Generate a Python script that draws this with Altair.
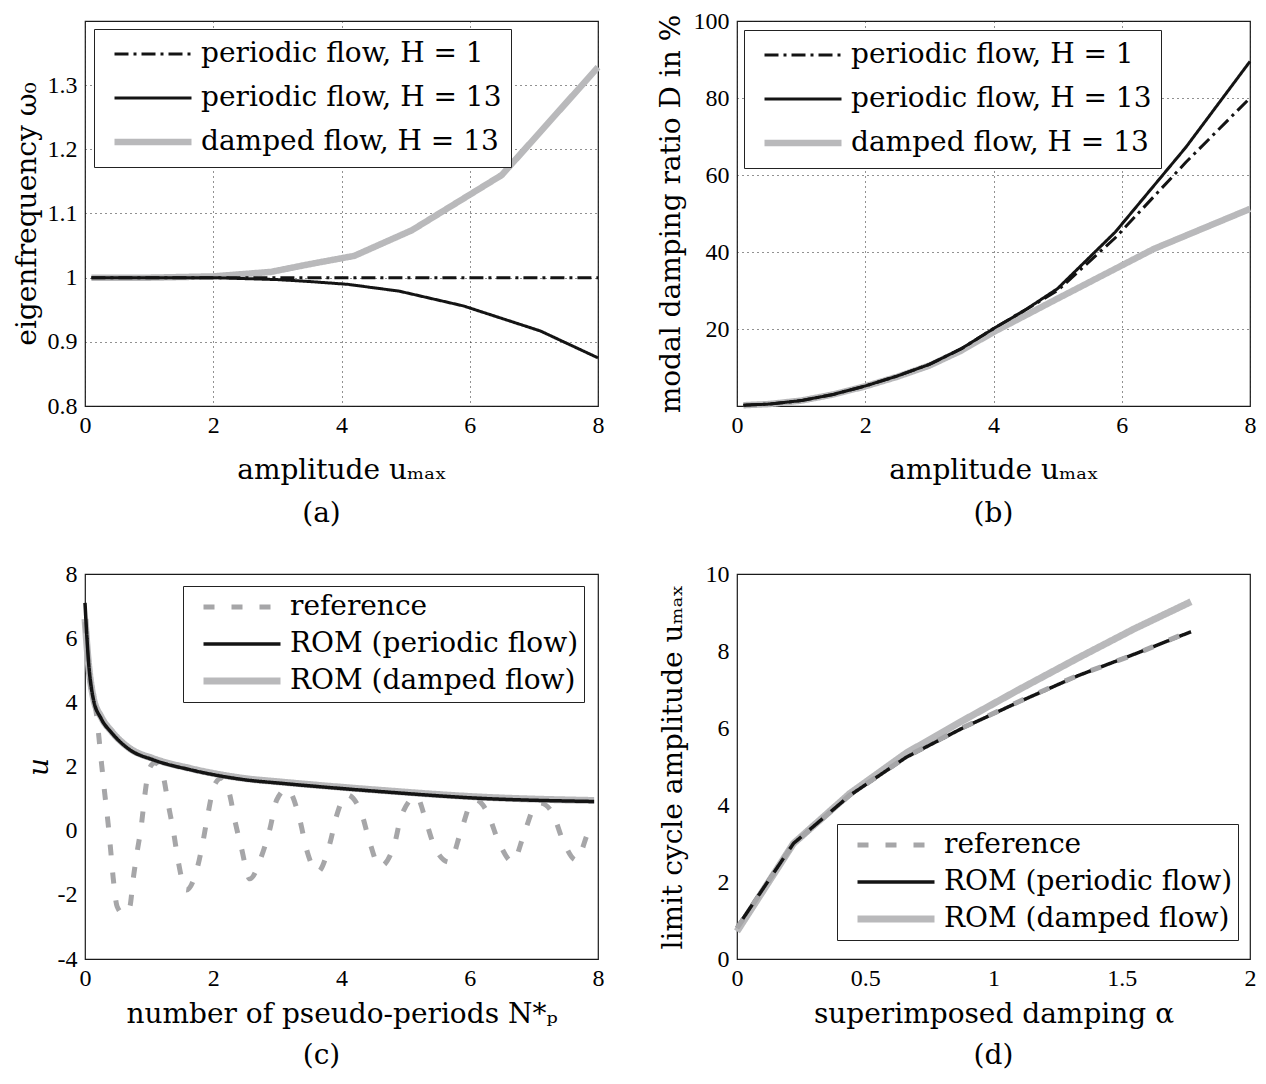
import altair as alt
import pandas as pd

# ---------------- panel (a): eigenfrequency ----------------
a_x_h1 = [0.1, 8.0]
a_y_h1 = [1.0, 1.0]
a_x_h13 = [0.1, 1.0, 2.0, 3.0, 3.5, 4.1, 4.9, 5.9, 7.1, 8.0]
a_y_h13 = [1.0, 1.0, 1.0, 0.997, 0.994, 0.9896, 0.979, 0.956, 0.917, 0.875]
a_x_damp = [0.1, 1.0, 2.0, 2.9, 3.5, 4.2, 5.1, 6.5, 8.0]
a_y_damp = [1.0, 1.0, 1.002, 1.009, 1.021, 1.034, 1.074, 1.16, 1.328]

# ---------------- panel (b): modal damping ratio ----------------
b_x = [0.1, 0.5, 1.0, 1.5, 2.0, 2.5, 3.0, 3.5, 4.0, 4.5, 5.0, 5.9, 7.0, 8.0]
b_y_h13 = [0.2, 0.5, 1.4, 3.0, 5.2, 7.8, 10.8, 14.9, 20.1, 25.0, 30.5, 45.2, 67.2, 89.5]
b_y_h1 = [0.2, 0.5, 1.4, 3.0, 5.2, 7.8, 10.8, 14.9, 20.1, 25.0, 30.0, 43.7, 63.3, 80.0]
b_x_damp = [0.1, 0.5, 1.0, 1.5, 2.0, 2.5, 3.0, 3.5, 4.0, 5.0, 6.5, 8.0]
b_y_damp = [0.2, 0.5, 1.4, 3.0, 5.1, 7.6, 10.5, 14.4, 19.2, 27.9, 40.8, 51.2]

# ---------------- panel (c): time signal ----------------
c_x_rom = [0.0, 0.05, 0.13, 0.25, 0.42, 0.7, 1.06, 1.64, 2.52, 3.04, 4.6, 6.15, 7.94]
c_y_rom_per = [7.1, 5.4, 4.1, 3.5, 3.04, 2.52, 2.21, 1.9, 1.58, 1.48, 1.22, 1.01, 0.91]
c_y_rom_damp = [6.6, 5.3, 4.15, 3.55, 3.08, 2.56, 2.25, 1.94, 1.62, 1.52, 1.26, 1.05, 0.94]
c_x_ref = [0.0, 0.08, 0.17, 0.26, 0.31, 0.36, 0.40, 0.44, 0.50, 0.60, 0.70, 0.75, 0.81,
           0.88, 0.93, 1.0, 1.09, 1.22, 1.30, 1.38, 1.45, 1.58, 1.75, 1.84, 1.92, 2.02,
           2.13, 2.25, 2.34, 2.44, 2.57, 2.75, 2.88, 2.99, 3.15, 3.35, 3.45, 3.63, 3.82,
           3.92, 4.08, 4.31, 4.43, 4.6, 4.83, 4.93, 5.17, 5.32, 5.45, 5.68, 5.87, 6.02,
           6.1, 6.28, 6.44, 6.67, 6.85, 7.01, 7.1, 7.29, 7.45, 7.66, 7.87, 7.97]
c_y_ref = [6.5, 4.65, 3.76, 2.05, 1.12, 0.23, -0.6, -1.48, -2.36, -2.6, -2.36, -1.53, -0.7,
           0.18, 1.06, 1.92, 2.12, 1.69, 0.8, -0.03, -0.91, -1.85, -1.17, -0.34, 0.55, 1.43,
           1.64, 1.17, 0.29, -0.55, -1.5, -0.81, 0.03, 0.96, 1.3, 0.34, -0.55, -1.28, -0.39,
           0.44, 1.12, 0.55, -0.29, -1.12, -0.39, 0.44, 1.06, 0.28, -0.5, -0.98, 0.03, 0.86,
           0.95, 0.55, -0.29, -0.97, -0.08, 0.75, 0.86, 0.55, -0.29, -0.92, 0.03, 0.2]

# ---------------- panel (d): limit cycle amplitude ----------------
d_x = [0.0, 0.22, 0.44, 0.66, 0.88, 1.1, 1.33, 1.55, 1.77]
d_y_ref = [0.8, 2.99, 4.26, 5.25, 6.01, 6.69, 7.37, 7.91, 8.52]
d_y_per = [0.82, 3.0, 4.25, 5.24, 6.0, 6.68, 7.36, 7.92, 8.5]
d_y_damp = [0.72, 3.0, 4.3, 5.35, 6.19, 7.0, 7.82, 8.58, 9.28]

names_ab = ["periodic flow, H = 1", "periodic flow, H = 13", "damped flow, H = 13"]
names_cd = ["reference", "ROM (periodic flow)", "ROM (damped flow)"]

BLACK = "#141414"
GRAY = "#b9b9bb"
REFGRAY = "#a6a6a8"
TITLE_FONT = "DejaVu Serif"
LABEL_FONT = "Liberation Serif"
W, H = 513, 385


def frame(xs, ys, name):
    return pd.DataFrame({"x": xs, "y": ys, "s": name})


def panel(series, names, colors, dashes, widths, order, xdom, ydom, xvals, yvals,
          xtitle, ytitle, grid, lx, ly, rowpad, lpad, caption, cap_dx, cap_off, interp,
          ytpad, xtpad, ytitle_style="normal"):
    legend = alt.Legend(
        orient="none", legendX=lx, legendY=ly, title=None, direction="vertical",
        symbolType="stroke", symbolSize=5929, clipHeight=32,
        labelFont=TITLE_FONT, labelFontSize=28,
        labelColor="black", labelLimit=700, fillColor="white", strokeColor="#222222",
        padding=lpad, symbolOffset=17 - lpad, labelOffset=6, rowPadding=rowpad,
    )
    xaxis = alt.Axis(
        values=xvals, title=xtitle, grid=grid, gridDash=[1, 4], gridColor="#222222",
        gridWidth=1, ticks=False, domain=False, labelFlush=False, labelOverlap=False,
        labelPadding=7, titlePadding=xtpad, labelExpr="'' + datum.value",
    )
    yaxis = alt.Axis(
        values=yvals, title=ytitle, grid=grid, gridDash=[1, 4], gridColor="#222222",
        gridWidth=1, ticks=False, domain=False, labelFlush=False, labelOverlap=False,
        labelPadding=8, titlePadding=ytpad, titleFontStyle=ytitle_style,
        labelExpr="'' + datum.value",
    )
    layers = []
    for name in order:
        layers.append(
            alt.Chart(series[name]).mark_line(interpolate=interp, strokeCap="butt",
                                              strokeJoin="round").encode(
                x=alt.X("x:Q", scale=alt.Scale(domain=xdom, nice=False, zero=False), axis=xaxis),
                y=alt.Y("y:Q", scale=alt.Scale(domain=ydom, nice=False, zero=False), axis=yaxis),
                color=alt.Color("s:N", scale=alt.Scale(domain=names, range=colors), legend=legend),
                strokeDash=alt.StrokeDash("s:N", scale=alt.Scale(domain=names, range=dashes), legend=legend),
                strokeWidth=alt.StrokeWidth("s:N", scale=alt.Scale(type="ordinal", domain=names, range=widths), legend=legend),
            )
        )
    return alt.layer(*layers).properties(
        width=W, height=H,
        title=alt.TitleParams(caption, orient="bottom", frame="group", anchor="middle",
                              font=TITLE_FONT, fontSize=28, fontWeight="normal",
                              color="black", offset=cap_off, dx=cap_dx),
    )


sa = {
    names_ab[0]: frame(a_x_h1, a_y_h1, names_ab[0]),
    names_ab[1]: frame(a_x_h13, a_y_h13, names_ab[1]),
    names_ab[2]: frame(a_x_damp, a_y_damp, names_ab[2]),
}
sb = {
    names_ab[0]: frame(b_x, b_y_h1, names_ab[0]),
    names_ab[1]: frame(b_x, b_y_h13, names_ab[1]),
    names_ab[2]: frame(b_x_damp, b_y_damp, names_ab[2]),
}
sc = {
    names_cd[0]: frame(c_x_ref, c_y_ref, names_cd[0]),
    names_cd[1]: frame(c_x_rom, c_y_rom_per, names_cd[1]),
    names_cd[2]: frame(c_x_rom, c_y_rom_damp, names_cd[2]),
}
sd = {
    names_cd[0]: frame(d_x, d_y_ref, names_cd[0]),
    names_cd[1]: frame(d_x, d_y_per, names_cd[1]),
    names_cd[2]: frame(d_x, d_y_damp, names_cd[2]),
}

ab_colors = [BLACK, BLACK, GRAY]
ab_dashes = [[14, 5, 3, 5], [1, 0], [1, 0]]
ab_widths = [3, 3, 6.5]
cd_colors = [REFGRAY, BLACK, GRAY]
cd_dashes = [[11, 17], [1, 0], [1, 0]]
cd_widths = [5, 3.5, 7]

pa = panel(sa, names_ab, ab_colors, ab_dashes, ab_widths,
           [names_ab[2], names_ab[1], names_ab[0]],
           [0, 8], [0.8, 1.4], [0, 2, 4, 6, 8], [0.8, 0.9, 1.0, 1.1, 1.2, 1.3],
           "amplitude uₘₐₓ", "eigenfrequency ω₀", True, 9, 8, 12, 9, "(a)", -20, 16,
           "linear", 6, 19)
pb = panel(sb, names_ab, ab_colors, ab_dashes, ab_widths,
           [names_ab[2], names_ab[1], names_ab[0]],
           [0, 8], [0, 100], [0, 2, 4, 6, 8], [20, 40, 60, 80, 100],
           "amplitude uₘₐₓ", "modal damping ratio D in %", True, 7, 9, 12, 9, "(b)", 0, 16,
           "linear", 8, 19)
pc = panel(sc, names_cd, cd_colors, cd_dashes, cd_widths,
           [names_cd[2], names_cd[0], names_cd[1]],
           [0, 8], [-4, 8], [0, 2, 4, 6, 8], [-4, -2, 0, 2, 4, 6, 8],
           "number of pseudo-periods N*ₚ", "u", False, 98, 12, 5, 5, "(c)", -20, 14,
           "monotone", 4, 10, "italic")
pd_ = panel(sd, names_cd, cd_colors, cd_dashes, cd_widths,
            [names_cd[2], names_cd[1], names_cd[0]],
            [0, 2], [0, 10], [0, 0.5, 1, 1.5, 2], [0, 2, 4, 6, 8, 10],
            "superimposed damping α", "limit cycle amplitude uₘₐₓ", False, 100, 250, 5, 5,
            "(d)", 0, 14, "linear", 18, 10)

chart = alt.concat(
    pa, pb, pc, pd_, columns=2, spacing={"row": 168, "column": 139}, bounds="flush"
).resolve_scale(
    color="independent", strokeDash="independent", strokeWidth="independent"
).resolve_legend(
    color="independent", strokeDash="independent", strokeWidth="independent"
).properties(
    padding={"left": 4, "top": 0, "right": 0, "bottom": 0}, background="white"
).configure_view(
    stroke="#1a1a1a", strokeWidth=1.2
).configure_axis(
    labelFont=LABEL_FONT, labelFontSize=24, labelColor="black",
    titleFont=TITLE_FONT, titleFontSize=28, titleFontWeight="normal", titleColor="black",
)

chart.save("out.html", embed_options={"renderer": "svg", "actions": False})
